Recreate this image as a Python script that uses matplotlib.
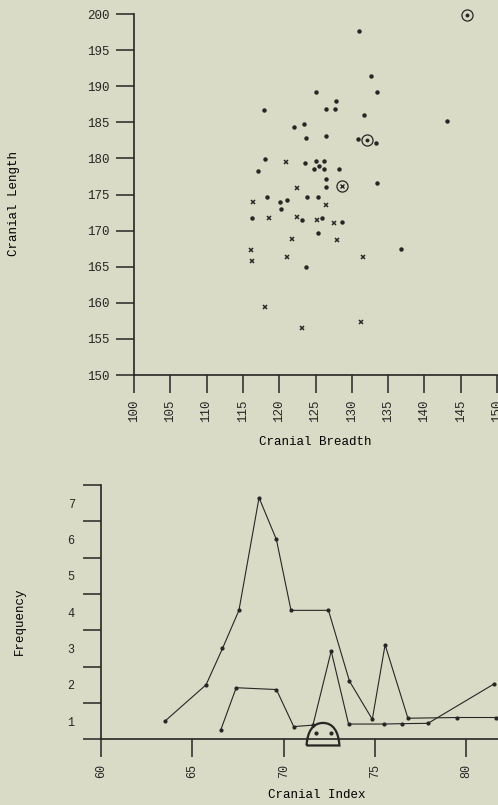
import numpy as np
import matplotlib
matplotlib.use("Agg")
import matplotlib.pyplot as plt
from matplotlib.path import Path
from matplotlib.patches import PathPatch

# scatter data: cranial breadth vs cranial length
dot_breadth = [131.0, 132.6, 133.5, 125.1, 127.8, 126.4, 127.7, 117.9, 131.7, 143.1,
               123.4, 122.1, 123.7, 126.4, 130.9, 133.4, 118.1, 123.5, 125.0, 126.2,
               125.5, 124.8, 126.2, 128.2, 117.1, 126.4, 133.5, 126.4, 123.8, 125.3,
               118.3, 121.1, 120.1, 120.2, 116.2, 123.2, 125.9, 128.7, 125.3, 136.8,
               123.7]
dot_length = [197.7, 191.4, 189.2, 189.2, 188.0, 186.9, 186.9, 186.7, 186.0, 185.2,
              184.8, 184.3, 182.8, 183.1, 182.7, 182.2, 179.9, 179.4, 179.7, 179.7,
              179.0, 178.6, 178.6, 178.5, 178.2, 177.2, 176.6, 176.1, 174.7, 174.6,
              174.6, 174.3, 174.0, 173.0, 171.7, 171.4, 171.8, 171.2, 169.7, 167.5,
              165.0]
cross_breadth = [120.9, 122.5, 116.4, 126.5, 118.6, 122.4, 125.2, 127.5, 121.7, 128.0,
                 116.1, 116.2, 121.1, 131.5, 118.1, 131.2, 123.1]
cross_length = [179.5, 175.9, 173.9, 173.5, 171.8, 171.9, 171.4, 171.0, 168.9, 168.7,
                167.3, 165.8, 166.4, 166.3, 159.4, 157.4, 156.5]
circled_breadth = [145.9, 132.1, 128.6]
circled_length = [199.8, 182.6, 176.2]
circled_inner = ["dot", "dot", "cross"]

# frequency polygons of cranial index
upper_index = [63.5, 65.75, 66.65, 67.55, 68.65, 69.6, 70.4, 72.45, 73.6, 74.85,
               75.55, 76.8, 79.5, 81.6]
upper_freq = [1.0, 2.0, 3.0, 4.05, 7.15, 6.0, 4.05, 4.05, 2.1, 1.05,
              3.1, 1.08, 1.1, 1.1]
lower_index = [66.55, 67.4, 69.6, 70.55, 71.6, 72.6, 73.55, 75.5, 76.45, 77.9, 81.5]
lower_freq = [0.75, 1.92, 1.87, 0.85, 0.89, 2.93, 0.92, 0.92, 0.93, 0.94, 2.02]
dome_dots_index = [71.75, 72.57]
dome_dots_freq = [0.665, 0.665]

bg = "#dadbc7"
ink = "#262624"
font = ["Liberation Mono", "DejaVu Sans Mono"]
plt.rcParams["font.family"] = font
plt.rcParams["text.color"] = ink
plt.rcParams["axes.edgecolor"] = ink
plt.rcParams["xtick.color"] = ink
plt.rcParams["ytick.color"] = ink
plt.rcParams["xtick.labelcolor"] = ink
plt.rcParams["ytick.labelcolor"] = ink

fig = plt.figure(figsize=(4.98, 8.05), dpi=100, facecolor=bg)

# ---- top: scatter ----
ax1 = fig.add_axes([134 / 498, 1 - 375 / 805, 363 / 498, 361 / 805])
ax1.set_facecolor(bg)
ax1.set_xlim(100, 150)
ax1.set_ylim(150, 200)
for s in ["top", "right"]:
    ax1.spines[s].set_visible(False)
for s in ["left", "bottom"]:
    ax1.spines[s].set_linewidth(1.2)

ax1.plot(dot_breadth, dot_length, "o", ms=2.2, color=ink, clip_on=False)
ax1.plot(cross_breadth, cross_length, "x", ms=3.2, mew=1.1, color=ink, clip_on=False)
for bx, ly, kind in zip(circled_breadth, circled_length, circled_inner):
    ax1.plot(bx, ly, "o", ms=8, mfc="none", mec=ink, mew=0.9, clip_on=False)
    if kind == "dot":
        ax1.plot(bx, ly, "o", ms=1.8, color=ink, clip_on=False)
    else:
        ax1.plot(bx, ly, "x", ms=3, mew=1, color=ink, clip_on=False)

ax1.set_xticks(np.arange(100, 151, 5))
ax1.set_yticks(np.arange(150, 201, 5))
ax1.tick_params(axis="both", direction="out", length=13, width=1.1, pad=4.5, labelsize=9)
for lab in ax1.get_xticklabels():
    lab.set_rotation(90)
ax1.set_xlabel("Cranial Breadth", fontsize=9)
ax1.xaxis.set_label_coords(0.4986, -0.186)
ax1.xaxis.label.set_va("center")
ax1.set_ylabel("Cranial Length", fontsize=9)
ax1.yaxis.set_label_coords(-0.33, 0.476)
ax1.yaxis.label.set_va("center")

# ---- bottom: frequency polygons ----
ax2 = fig.add_axes([101 / 498, 1 - 739.3 / 805, 397 / 498, 254.3 / 805])
ax2.set_facecolor(bg)
ax2.set_xlim(60, 81.73)
ax2.set_ylim(0.5, 7.5)
for s in ["top", "right"]:
    ax2.spines[s].set_visible(False)
for s in ["left", "bottom"]:
    ax2.spines[s].set_linewidth(1.2)

ax2.plot(upper_index, upper_freq, "-o", lw=0.8, ms=2, color=ink, clip_on=False)
ax2.plot(lower_index, lower_freq, "-o", lw=0.8, ms=2, color=ink, clip_on=False)

dome_verts = [(71.25, 0.33), (71.3, 0.72), (71.6, 0.95), (72.15, 0.95),
              (72.7, 0.95), (73.0, 0.72), (73.05, 0.33), (71.25, 0.33)]
dome_codes = [Path.MOVETO, Path.CURVE4, Path.CURVE4, Path.CURVE4,
              Path.CURVE4, Path.CURVE4, Path.CURVE4, Path.LINETO]
ax2.add_patch(PathPatch(Path(dome_verts, dome_codes), fill=False, lw=1.6,
                        edgecolor=ink, clip_on=False))
ax2.plot(dome_dots_index, dome_dots_freq, "o", ms=2, color=ink, clip_on=False)

ax2.set_xticks(np.arange(60, 81, 5))
ax2.set_yticks(np.arange(0.5, 7.6, 1.0))
ax2.set_yticklabels([])
ax2.set_yticks(np.arange(1, 8), minor=True)
ax2.set_yticklabels([str(v) for v in range(1, 8)], minor=True)
ax2.tick_params(axis="both", which="major", direction="out", length=13, width=1.1,
                pad=5, labelsize=8.5)
ax2.tick_params(axis="y", which="minor", length=0, pad=19, labelsize=8.5)
for lab in ax2.get_xticklabels():
    lab.set_rotation(90)
ax2.set_xlabel("Cranial Index", fontsize=9)
ax2.xaxis.set_label_coords(0.544, -0.219)
ax2.xaxis.label.set_va("center")
ax2.set_ylabel("Frequency", fontsize=9)
ax2.yaxis.set_label_coords(-0.204, 0.465)
ax2.yaxis.label.set_va("center")

fig.savefig("out.png", dpi=100, facecolor=bg)
